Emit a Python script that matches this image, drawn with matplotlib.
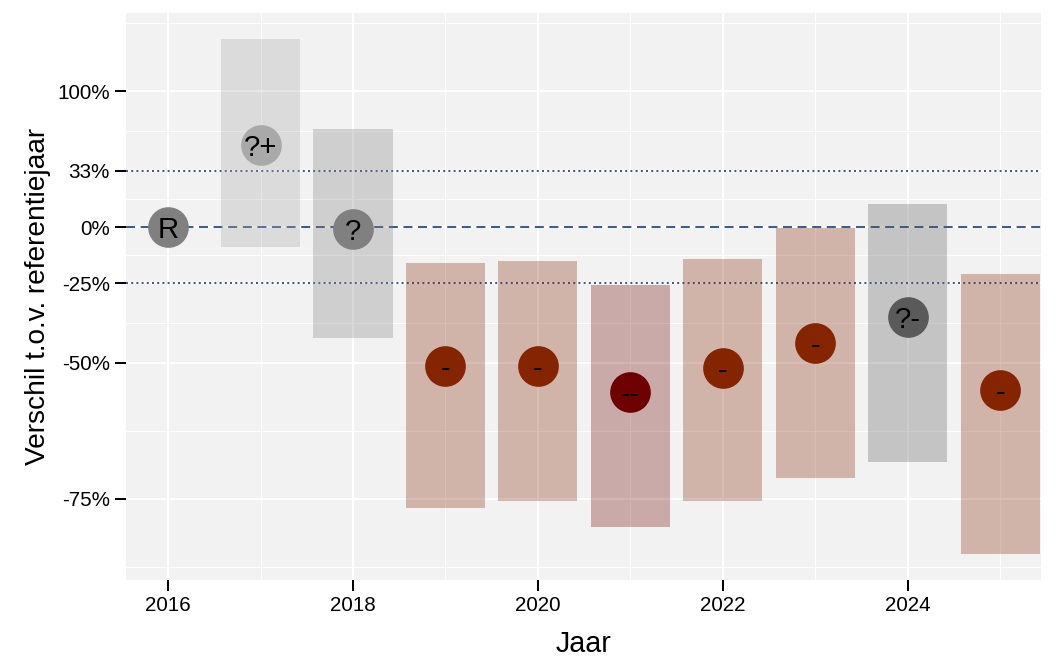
import numpy as np
import matplotlib
matplotlib.use("Agg")
import matplotlib.pyplot as plt

plt.rcParams['font.family'] = ['Liberation Sans', 'DejaVu Sans']

# ---- data (ratios relative to reference year 2016) ----
years = [2016, 2017, 2018, 2019, 2020, 2021, 2022, 2023, 2024, 2025]
estimate = [1.0, 1.52, 0.99, 0.492, 0.492, 0.432, 0.487, 0.554, 0.633, 0.436]
lower = [np.nan, 0.905, 0.567, 0.239, 0.247, 0.217, 0.248, 0.278, 0.302, 0.189]
upper = [np.nan, 2.607, 1.648, 0.832, 0.841, 0.744, 0.849, 0.995, 1.124, 0.787]
klasse = ["R", "?+", "?", "-", "-", "--", "-", "-", "?-", "-"]

klasse_colors = {
    "R": "#808080",
    "?+": "#A9A9A9",
    "?": "#808080",
    "?-": "#5A5A5A",
    "-": "#842400",
    "--": "#6E0000",
}

tick_ratios = [0.25, 0.5, 0.75, 1.0, 4 / 3, 2.0]
tick_labels = ["-75%", "-50%", "-25%", "0%", "33%", "100%"]
ref_dashed = 1.0
ref_dotted = [4 / 3, 0.75]
x_ticks = [2016, 2018, 2020, 2022, 2024]

DPI = 96
fig = plt.figure(figsize=(1056 / DPI, 672 / DPI), dpi=DPI)
ax = fig.add_axes([126 / 1056, 1 - 580 / 672, (1041 - 126) / 1056, (580 - 13) / 672])
ax.set_facecolor("#F2F2F2")
for s in ax.spines.values():
    s.set_visible(False)

ly = np.log(tick_ratios)
# minor breaks in transformed space (midpoints, extended by first spacing)
bd = ly[1] - ly[0]
ext = np.concatenate([[ly[0] - bd], ly, [ly[-1] + bd]])
minor_y = (ext[:-1] + ext[1:]) / 2
minor_x = [2015, 2017, 2019, 2021, 2023, 2025]

for yv in minor_y:
    ax.axhline(yv, color="white", lw=0.8, zorder=0)
for xv in minor_x:
    ax.axvline(xv, color="white", lw=0.8, zorder=0)
for yv in ly:
    ax.axhline(yv, color="white", lw=1.5, zorder=0)
for xv in x_ticks:
    ax.axvline(xv, color="white", lw=1.5, zorder=0)

# reference lines
line_col = "#3A5E90"
ax.axhline(np.log(ref_dashed), color=line_col, lw=1.5, ls=(0, (4.5, 2.8)), zorder=1)
for r in ref_dotted:
    ax.axhline(np.log(r), color=line_col, lw=1.5, ls=(0, (1, 1.6)), zorder=1)

# bars (confidence intervals)
width = 0.855
for x, lo, hi, k in zip(years, lower, upper, klasse):
    if np.isnan(lo):
        continue
    ax.bar(x, np.log(hi) - np.log(lo), bottom=np.log(lo), width=width,
           color=klasse_colors[k], alpha=0.3, lw=0, zorder=2)

# points
for x, e, k in zip(years, estimate, klasse):
    ax.scatter([x], [np.log(e)], s=30.5 ** 2, color=klasse_colors[k], lw=0, zorder=3)
    ax.annotate(k, (x, np.log(e)), xytext=(0, -8.3), textcoords="offset points",
                ha="center", va="baseline", fontsize=22, color="black", zorder=4)

ax.set_xlim(2015.545, 2025.44)
ax.set_ylim(np.log(0.25) - (580 - 499) / 196.2, np.log(2.0) + (91 - 13) / 196.2)
ax.set_xticks(x_ticks)
ax.set_xticklabels([str(v) for v in x_ticks])
ax.set_yticks(ly)
ax.set_yticklabels(tick_labels)
ax.tick_params(axis="both", length=8, width=1.5, color="black", labelsize=15.5, pad=4,
               labelcolor="black")
ax.tick_params(which="minor", length=0)

ax.set_xlabel("Jaar", fontsize=21.5, labelpad=11)
ax.set_ylabel("Verschil t.o.v. referentiejaar", fontsize=21, labelpad=5)

fig.savefig("out.png", dpi=DPI, facecolor="white")
